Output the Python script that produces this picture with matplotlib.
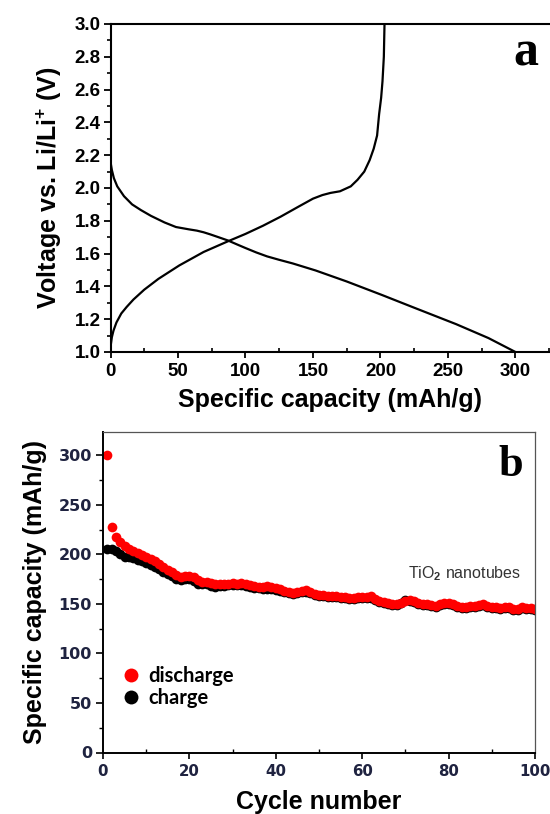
import matplotlib
matplotlib.use("Agg")
import matplotlib.pyplot as plt
from matplotlib.ticker import MultipleLocator, FuncFormatter
from matplotlib.lines import Line2D

plt.rcParams['font.family'] = ['Liberation Sans', 'DejaVu Sans']
plt.rcParams['font.weight'] = 'bold'
plt.rcParams['axes.labelweight'] = 'bold'
plt.rcParams['mathtext.fontset'] = 'custom'
plt.rcParams['mathtext.rm'] = 'Liberation Sans'
plt.rcParams['mathtext.bf'] = 'Liberation Sans:bold'

# ---- Panel a: voltage profiles ----
discharge_cap = [0, 1, 2.5, 5, 10, 16, 22.6, 30, 40, 48.5, 58, 64, 69, 74, 80, 87, 94, 100,
                 108, 116, 125, 135, 152, 175, 201, 225, 256, 280, 300]
discharge_v = [2.16, 2.11, 2.06, 2.01, 1.95, 1.90, 1.865, 1.83, 1.79, 1.762, 1.748, 1.74, 1.73,
               1.717, 1.70, 1.68, 1.655, 1.634, 1.607, 1.583, 1.562, 1.54, 1.497, 1.43,
               1.348, 1.27, 1.17, 1.085, 1.0]
charge_cap = [0, 1, 2.2, 4.4, 8, 12, 17, 25, 35.5, 51, 69, 87, 100, 113, 126, 139,
              150, 157, 163, 170, 178, 183, 188, 192, 195, 197.5, 199, 200.5, 201.5, 202.5, 203]
charge_v = [1.03, 1.09, 1.13, 1.18, 1.235, 1.275, 1.32, 1.38, 1.446, 1.528, 1.61, 1.675,
            1.72, 1.77, 1.825, 1.885, 1.935, 1.957, 1.97, 1.98, 2.01, 2.05, 2.10, 2.17,
            2.24, 2.32, 2.45, 2.55, 2.65, 2.8, 3.0]

# ---- Panel b: cycling ----
cycles = list(range(1, 101))
discharge_b = [300, 228, 218, 213, 208, 205, 203, 201, 199, 197,
               195, 193, 190, 187, 184, 182, 179, 177, 178, 178,
               177, 174, 172, 172, 171, 170, 170, 170, 170, 171,
               170, 171, 170, 169, 168, 167, 167, 168, 167, 166,
               165, 163, 162, 161, 162, 163, 164, 162, 160, 159,
               159, 158, 158, 158, 157, 157, 156, 156, 157, 157,
               157, 158, 155, 153, 152, 151, 150, 150, 151, 153,
               154, 153, 151, 150, 150, 149, 148, 150, 151, 151,
               150, 148, 147, 147, 148, 148, 149, 150, 148, 147,
               147, 146, 147, 147, 145, 145, 147, 146, 146, 145]
charge_b = [205, 205, 203, 200, 197, 197, 196, 194, 193, 191,
            189, 187, 185, 182, 180, 178, 175, 174, 175, 175,
            173, 170, 170, 170, 168, 167, 168, 168, 169, 169,
            169, 169, 168, 167, 166, 166, 165, 165, 165, 164,
            163, 162, 161, 160, 161, 162, 162, 161, 159, 158,
            158, 157, 157, 157, 156, 156, 155, 155, 156, 156,
            156, 156, 154, 152, 151, 150, 149, 149, 151, 154,
            153, 152, 150, 149, 149, 148, 147, 149, 150, 150,
            149, 147, 146, 146, 147, 147, 148, 149, 147, 146,
            146, 145, 146, 146, 144, 144, 146, 145, 145, 144]
legend_labels = ['discharge', 'charge']

W, H = 550, 814
fig = plt.figure(figsize=(W/100, H/100), dpi=100)

# ---------------- Panel a ----------------
L1, T1, B1 = 110.5, 24, 352
ax1 = fig.add_axes([L1/W, 1-B1/H, (W-L1)/W, (B1-T1)/H])
ax1.plot(discharge_cap, discharge_v, color='black', lw=1.6)
ax1.plot(charge_cap, charge_v, color='black', lw=1.6)
ax1.set_xlim(0, 325.6)
ax1.set_ylim(1.0, 3.0)
ax1.xaxis.set_major_locator(MultipleLocator(50))
ax1.xaxis.set_minor_locator(MultipleLocator(25))
ax1.yaxis.set_major_locator(MultipleLocator(0.2))
ax1.yaxis.set_minor_locator(MultipleLocator(0.1))
ax1.xaxis.set_major_formatter(FuncFormatter(lambda v, p: f"{v:.0f}"))
ax1.yaxis.set_major_formatter(FuncFormatter(lambda v, p: f"{v:.1f}"))
ax1.spines['right'].set_visible(False)
for s in ['left', 'bottom', 'top']:
    ax1.spines[s].set_linewidth(1.5)
ax1.tick_params(axis='x', which='major', direction='out', length=4, width=1.3, labelsize=13.5, pad=4)
ax1.tick_params(axis='x', which='minor', direction='in', length=3, width=1.2)
ax1.tick_params(axis='y', which='major', direction='out', length=5, width=1.3, labelsize=13.5, pad=2)
ax1.tick_params(axis='y', which='minor', direction='out', length=3, width=1.2)
ax1.set_xlabel('Specific capacity (mAh/g)', fontsize=18, labelpad=6)
ax1.set_ylabel(r'Voltage vs. Li/Li$^{\mathbf{+}}$ (V)', fontsize=18, labelpad=8)
ax1.text(0.973, 0.874, 'a', transform=ax1.transAxes, ha='right', va='baseline',
         fontsize=36, fontweight='bold', family='Liberation Serif')

# ---------------- Panel b ----------------
L2, R2, T2, B2 = 103, 535, 431.6, 752.5
ax2 = fig.add_axes([L2/W, 1-B2/H, (R2-L2)/W, (B2-T2)/H])
ax2.plot(cycles, charge_b, 'o', color='black', ms=7, mec='none')
ax2.plot(cycles, discharge_b, 'o', color='#ff0000', ms=7, mec='none')
ax2.set_xlim(0, 100)
ax2.set_ylim(0, 324)
ax2.xaxis.set_major_locator(MultipleLocator(20))
ax2.xaxis.set_minor_locator(MultipleLocator(10))
ax2.yaxis.set_major_locator(MultipleLocator(50))
ax2.yaxis.set_minor_locator(MultipleLocator(25))
for s in ['left', 'bottom']:
    ax2.spines[s].set_linewidth(1.4)
    ax2.spines[s].set_color('black')
for s in ['top', 'right']:
    ax2.spines[s].set_linewidth(0.9)
    ax2.spines[s].set_color('#555555')
tcol = '#1f2340'
ax2.tick_params(axis='x', which='major', direction='out', length=4.5, width=1.2, labelsize=10.8,
                labelcolor=tcol, pad=3.5, labelfontfamily='DejaVu Sans')
ax2.tick_params(axis='x', which='minor', direction='in', length=3, width=1.0)
ax2.tick_params(axis='y', which='major', direction='out', length=5, width=1.2, labelsize=11.5,
                labelcolor=tcol, pad=3, labelfontfamily='DejaVu Sans')
ax2.tick_params(axis='y', which='minor', direction='out', length=3, width=1.0)
ax2.set_xlabel('Cycle number', fontsize=18, labelpad=8)
ax2.set_ylabel('Specific capacity (mAh/g)', fontsize=18, labelpad=8)
ax2.text(0.972, 0.861, 'b', transform=ax2.transAxes, ha='right', va='baseline',
         fontsize=32, fontweight='bold', family='Liberation Serif')
ax2.text(0.707, 0.5436, r'TiO$_\mathrm{2}$ nanotubes', transform=ax2.transAxes, ha='left',
         va='baseline', fontsize=11.5, fontweight='normal', color='#333333')
handles = [Line2D([], [], ls='none', marker='o', color='#ff0000', ms=10, mec='none'),
           Line2D([], [], ls='none', marker='o', color='black', ms=10, mec='none')]
ax2.legend(handles, legend_labels, loc='center left', bbox_to_anchor=(0.0405, 0.204),
           frameon=False, borderpad=0, borderaxespad=0, handletextpad=0.375,
           labelspacing=0.1, handlelength=1.0,
           prop={'family': 'Lato', 'weight': 'bold', 'size': 14.5})

fig.savefig('out.png', dpi=100)
